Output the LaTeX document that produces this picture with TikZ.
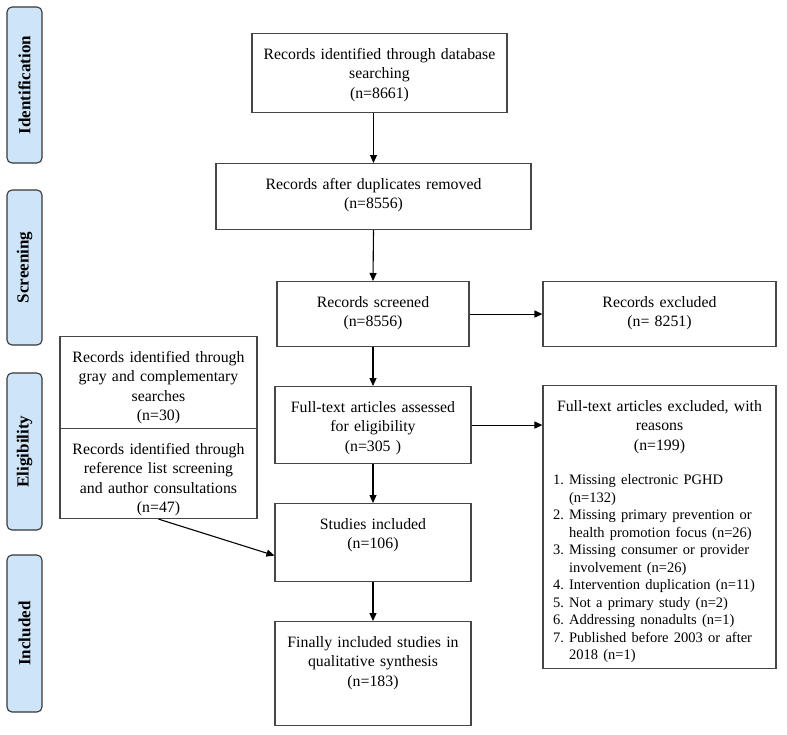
\documentclass[tikz,border=0pt]{standalone}
\usepackage{fontspec}
\setmainfont{Liberation Serif}
\usetikzlibrary{arrows.meta,calc,positioning}

\definecolor{sideblue}{RGB}{206,228,248}
\definecolor{sideline}{RGB}{55,55,55}
\definecolor{boxline}{RGB}{70,70,70}

\newcommand{\boxfont}{\fontsize{15.8}{19.5}\selectfont}
\newcommand{\listfont}{\fontsize{14.5}{17.5}\selectfont}

\tikzset{
  stage/.style 2 args={draw=boxline, line width=1.1pt, align=center,
    inner xsep=4pt, inner ysep=0pt, anchor=north, font=\boxfont,
    text width=#1, text height=25.5pt, text depth=#2},
  phase/.style={draw=sideline, fill=sideblue, line width=1.1pt,
    rounded corners=5pt, rotate=90, minimum height=35pt, inner sep=0pt,
    font=\fontsize{17}{20}\selectfont\bfseries},
  flow/.style={-{Triangle[length=8pt,width=7pt]}, line width=1.1pt, black}
}

\begin{document}
\begin{tikzpicture}[x=1pt,y=-1pt]
\useasboundingbox (0,0) rectangle (787,734);

% phases on the left
\node[phase, minimum width=156pt] (phIdent) at (24.5,85) {Identification};
\node[phase, minimum width=155pt] (phScreen) at (24.5,267.5) {Screening};
\node[phase, minimum width=157pt] (phElig) at (24.5,451.5) {Eligibility};
\node[phase, minimum width=157pt] (phIncl) at (24.5,633.5) {Included};

% main column
\node[stage={247pt}{53.5pt}] (db) at (379.5,33)
  {Records identified through database\\searching\\(n=8661)};
\node[stage={307pt}{40.5pt}] (dupl) at (373.5,163)
  {Records after duplicates removed\\(n=8556)};
\node[stage={184pt}{39.5pt}] (screened) at (373,281)
  {Records screened\\(n=8556)};
\node[stage={188pt}{51.5pt}] (fulltext) at (373,386)
  {Full-text articles assessed\\for eligibility\\(n=305 )};
\node[stage={188pt}{52.5pt}] (studies) at (373,503)
  {Studies included\\(n=106)};
\node[stage={188pt}{78.5pt}] (final) at (373,621)
  {Finally included studies in\\qualitative synthesis\\(n=183)};

% exclusions
\node[stage={225pt}{39.5pt}] (excluded) at (659.5,281)
  {Records excluded\\(n= 8251)};
\node[stage={225pt}{257.5pt}] (reasons) at (659.5,385)
  {Full-text articles excluded, with\\reasons\\(n=199)\\[15pt]
   \makebox[\linewidth][l]{\hspace{6pt}{\listfont
   \begin{tabular}[t]{@{}l@{\ }l@{}}
   1. & Missing electronic PGHD\\
      & (n=132)\\
   2. & Missing primary prevention or\\
      & health promotion focus (n=26)\\
   3. & Missing consumer or provider\\
      & involvement (n=26)\\
   4. & Intervention duplication (n=11)\\
   5. & Not a primary study (n=2)\\
   6. & Addressing nonadults (n=1)\\
   7. & Published before 2003 or after\\
      & 2018 (n=1)
   \end{tabular}}}};

% other sources
\node[stage={189pt}{66.5pt}] (gray) at (158.5,336)
  {Records identified through\\gray and complementary\\searches\\(n=30)};
\node[stage={189pt}{64.5pt}, below=-1.1pt of gray] (refs)
  {Records identified through\\reference list screening\\and author consultations\\(n=47)};

% connectors
\draw[flow] (db.south -| dupl.north) -- (dupl.north);
\draw[flow] (dupl.south) -- (screened.north);
\draw[flow] (screened.south) -- (fulltext.north);
\draw[flow] (fulltext.south) -- (studies.north);
\draw[flow] (studies.south) -- (final.north);
\draw[flow] (screened.east) -- (screened.east -| excluded.west);
\draw[flow] (fulltext.east) -- (fulltext.east -| reasons.west);
\draw[flow] (refs.south) -- ($(studies.west)+(0,13)$);
\end{tikzpicture}
\end{document}
